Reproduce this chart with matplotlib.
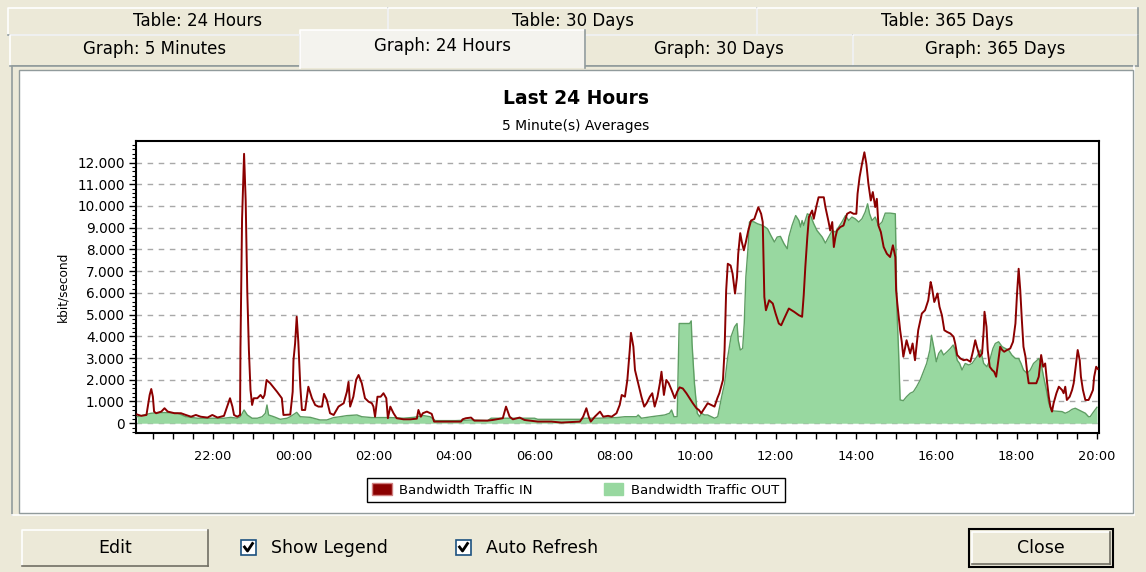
import matplotlib

matplotlib.use("Agg")
import matplotlib.pyplot as plt
from matplotlib.patches import Patch, Rectangle
from matplotlib.ticker import FixedLocator, FuncFormatter, MultipleLocator

# hours since 20:00 of the previous day
in_hours = [
    0.11, 0.21, 0.34, 0.42, 0.46, 0.50, 0.53, 0.58, 0.71, 0.79, 0.87, 1.04, 1.20, 1.32, 1.45,
    1.57, 1.69, 1.86, 1.98, 2.11, 2.27, 2.35, 2.42, 2.48, 2.52, 2.60, 2.67, 2.68, 2.72, 2.77,
    2.81, 2.85, 2.89, 2.93, 2.97, 3.01, 3.10, 3.18, 3.24, 3.28, 3.33, 3.42, 3.59, 3.71, 3.75,
    3.92, 3.98, 4.00, 4.04, 4.08, 4.12, 4.17, 4.21, 4.29, 4.37, 4.46, 4.54, 4.62, 4.71, 4.76,
    4.83, 4.91, 5.00, 5.12, 5.25, 5.33, 5.37, 5.41, 5.49, 5.56, 5.62, 5.70, 5.78, 5.87, 5.95,
    5.99, 6.03, 6.09, 6.17, 6.24, 6.31, 6.35, 6.41, 6.49, 6.57, 6.74, 6.91, 7.07, 7.11, 7.17,
    7.22, 7.32, 7.44, 7.50, 7.98, 8.17, 8.21, 8.29, 8.42, 8.50, 8.83, 8.96, 9.21, 9.29, 9.38,
    9.46, 9.63, 9.75, 10.08, 10.42, 10.67, 11.13, 11.21, 11.29, 11.35, 11.40, 11.50, 11.63, 11.71, 11.83,
    11.92, 12.04, 12.12, 12.17, 12.25, 12.31, 12.37, 12.40, 12.46, 12.50, 12.58, 12.66, 12.73, 12.79, 12.87,
    12.93, 12.99, 13.06, 13.12, 13.16, 13.22, 13.28, 13.34, 13.41, 13.49, 13.55, 13.61, 13.69, 13.78, 13.86,
    13.94, 14.03, 14.09, 14.15, 14.23, 14.31, 14.40, 14.48, 14.55, 14.60, 14.69, 14.73, 14.77, 14.81, 14.88,
    14.93, 14.99, 15.04, 15.07, 15.12, 15.16, 15.21, 15.26, 15.32, 15.39, 15.47, 15.54, 15.57, 15.64, 15.68,
    15.72, 15.76, 15.84, 15.93, 16.00, 16.08, 16.14, 16.21, 16.33, 16.46, 16.58, 16.66, 16.70, 16.74, 16.79,
    16.83, 16.91, 16.95, 17.02, 17.07, 17.20, 17.24, 17.32, 17.36, 17.41, 17.45, 17.49, 17.53, 17.61, 17.69,
    17.78, 17.86, 17.94, 18.01, 18.04, 18.09, 18.15, 18.21, 18.26, 18.31, 18.37, 18.42, 18.48, 18.52, 18.56,
    18.62, 18.69, 18.77, 18.85, 18.92, 18.98, 19.00, 19.03, 19.10, 19.14, 19.18, 19.26, 19.35, 19.41, 19.47,
    19.55, 19.64, 19.72, 19.80, 19.86, 19.89, 19.95, 20.00, 20.03, 20.08, 20.14, 20.20, 20.27, 20.35, 20.43,
    20.47, 20.52, 20.60, 20.68, 20.76, 20.85, 20.91, 20.97, 21.01, 21.08, 21.14, 21.18, 21.20, 21.25, 21.28,
    21.33, 21.39, 21.44, 21.49, 21.55, 21.59, 21.64, 21.69, 21.76, 21.84, 21.91, 21.97, 22.01, 22.05, 22.09,
    22.13, 22.17, 22.22, 22.26, 22.30, 22.38, 22.49, 22.55, 22.61, 22.66, 22.71, 22.76, 22.80, 22.84, 22.88,
    22.92, 22.99, 23.05, 23.13, 23.17, 23.21, 23.25, 23.32, 23.38, 23.42, 23.46, 23.52, 23.57, 23.60, 23.65,
    23.71, 23.79, 23.83, 23.90, 23.93, 23.98, 24.02,
]
in_kbps = [
    400, 340, 380, 1300, 1575, 1220, 535, 460, 535, 690, 535, 460, 460, 380, 300,
    380, 300, 260, 380, 260, 340, 765, 1150, 765, 380, 300, 380, 3440, 9400, 12400,
    10250, 6040, 3370, 1530, 840, 1150, 1150, 1300, 1150, 1300, 1990, 1840, 1450, 1150, 380,
    400, 1450, 2900, 3670, 4900, 3750, 1680, 610, 610, 1680, 1150, 840, 765, 765, 1350,
    1070, 460, 380, 765, 920, 1450, 1900, 765, 1220, 2000, 2220, 1840, 1150, 990, 920,
    765, 300, 1220, 1220, 1380, 1150, 230, 765, 460, 230, 180, 180, 210, 610, 300,
    460, 535, 430, 75, 75, 75, 180, 230, 260, 120, 120, 150, 230, 765, 300,
    180, 260, 150, 75, 75, 30, 75, 300, 690, 300, 75, 300, 535, 300, 340,
    300, 460, 840, 1300, 1220, 1990, 3370, 4160, 3520, 2450, 1840, 1220, 765, 920, 1220,
    1380, 765, 1220, 1840, 2370, 1300, 1990, 1840, 1530, 1150, 1450, 1650, 1600, 1380, 1150,
    920, 690, 610, 460, 690, 920, 840, 765, 1150, 1380, 1990, 3370, 6120, 7340, 7260,
    6880, 5970, 6730, 7800, 8750, 8340, 7960, 8340, 8870, 9330, 9400, 9790, 9945, 9640, 9260,
    5810, 5200, 5660, 5510, 5050, 4590, 4510, 4800, 5280, 5130, 4970, 4900, 5890, 7190, 8570,
    9490, 9790, 9410, 10020, 10400, 10400, 9950, 9260, 8870, 9260, 8110, 8570, 8870, 9030, 9100,
    9640, 9720, 9640, 9640, 10560, 11320, 11930, 12470, 11930, 11020, 10250, 10640, 9950, 10330, 9100,
    8800, 8110, 7800, 7650, 8190, 7650, 6120, 5510, 4280, 3750, 3060, 3820, 3210, 3670, 2900,
    4280, 5050, 5200, 5660, 6500, 6270, 5580, 5810, 5970, 5360, 4970, 4280, 4200, 4130, 3980,
    3670, 3140, 2980, 2900, 2930, 2830, 3290, 3820, 3520, 3060, 3210, 4280, 5130, 4440, 3370,
    2600, 2450, 2370, 2140, 2980, 3520, 3370, 3290, 3370, 3440, 3750, 4590, 5970, 7110, 6120,
    4740, 3520, 3060, 2370, 1840, 1840, 1840, 2140, 3140, 2600, 2750, 1840, 1220, 765, 535,
    920, 1380, 1680, 1530, 1380, 1680, 1070, 1220, 1530, 1840, 2450, 3370, 2900, 2140, 1530,
    1070, 1070, 1220, 1530, 2140, 2600, 2500,
]

out_hours = [
    0.11, 0.29, 0.46, 0.79, 1.12, 1.32, 1.61, 1.94, 2.27, 2.44, 2.60, 2.68, 2.77, 2.85, 2.97,
    3.10, 3.22, 3.30, 3.34, 3.38, 3.51, 3.67, 3.84, 3.92, 4.08, 4.17, 4.42, 4.66, 4.83, 5.00,
    5.16, 5.33, 5.58, 5.70, 5.95, 6.41, 6.74, 6.99, 7.24, 7.40, 7.53, 8.03, 8.42, 8.83, 8.92,
    10.00, 10.08, 11.17, 11.25, 11.58, 12.04, 12.25, 12.54, 12.58, 12.66, 12.91, 13.24, 13.36, 13.41, 13.47,
    13.55, 13.60, 13.74, 13.86, 13.90, 13.92, 13.98, 14.05, 14.11, 14.15, 14.23, 14.31, 14.40, 14.48, 14.56,
    14.65, 14.73, 14.81, 14.89, 14.98, 15.04, 15.07, 15.12, 15.18, 15.22, 15.26, 15.31, 15.35, 15.39, 15.47,
    15.55, 15.68, 15.80, 15.88, 15.97, 16.04, 16.12, 16.21, 16.29, 16.33, 16.41, 16.50, 16.58, 16.62, 16.66,
    16.70, 16.79, 16.87, 16.95, 17.03, 17.16, 17.24, 17.32, 17.41, 17.49, 17.57, 17.65, 17.74, 17.82, 17.90,
    17.98, 18.07, 18.15, 18.23, 18.29, 18.34, 18.40, 18.48, 18.56, 18.65, 18.73, 18.85, 18.98, 19.02, 19.06,
    19.10, 19.18, 19.26, 19.35, 19.43, 19.51, 19.60, 19.68, 19.76, 19.84, 19.88, 19.95, 20.00, 20.06, 20.12,
    20.18, 20.27, 20.35, 20.42, 20.47, 20.52, 20.58, 20.64, 20.72, 20.81, 20.89, 21.01, 21.10, 21.18, 21.26,
    21.33, 21.41, 21.47, 21.55, 21.64, 21.72, 21.80, 21.88, 21.97, 22.05, 22.11, 22.17, 22.26, 22.34, 22.42,
    22.51, 22.55, 22.61, 22.67, 22.74, 22.80, 22.86, 22.92, 23.13, 23.21, 23.30, 23.38, 23.46, 23.63, 23.71,
    23.79, 23.83, 23.92, 24.00,
]
out_kbps = [
    300, 380, 460, 490, 460, 300, 230, 230, 230, 270, 230, 300, 610, 380, 230,
    230, 300, 460, 840, 380, 300, 180, 230, 300, 500, 300, 270, 150, 150, 260,
    300, 350, 380, 300, 260, 260, 230, 270, 350, 300, 120, 120, 150, 120, 230,
    230, 180, 180, 230, 230, 260, 300, 300, 380, 230, 300, 380, 460, 610, 300,
    300, 4590, 4590, 4590, 4710, 3670, 1840, 460, 300, 460, 380, 380, 300, 230, 300,
    1150, 1840, 3060, 3980, 4440, 4590, 3820, 3370, 3440, 4590, 6730, 7960, 9260, 9300, 9260,
    9180, 9100, 8950, 8650, 8340, 8570, 8600, 8260, 8030, 8570, 9100, 9560, 9330, 9030, 9330,
    9100, 9640, 9560, 9180, 8870, 8570, 8290, 8570, 8870, 8800, 9030, 9260, 9560, 9330, 9490,
    9410, 9260, 9410, 9720, 10100, 9640, 9330, 9490, 9100, 9260, 9670, 9670, 9640, 5200, 3370,
    1070, 1040, 1220, 1380, 1450, 1680, 1990, 2370, 2750, 3370, 4050, 3370, 2830, 3210, 3370,
    3140, 3290, 3440, 3600, 3370, 2900, 2750, 2450, 2750, 2680, 2750, 3060, 3370, 2750, 2600,
    2900, 3440, 3670, 3750, 3520, 3440, 3370, 3140, 2980, 2980, 2750, 2450, 2300, 2450, 2750,
    2900, 2980, 2750, 2140, 1530, 920, 610, 565, 535, 460, 535, 640, 690, 535, 460,
    300, 300, 535, 735,
]

tick_hours = [2, 4, 6, 8, 10, 12, 14, 16, 18, 20, 22, 24]
tick_labels = ["22:00", "00:00", "02:00", "04:00", "06:00", "08:00",
               "10:00", "12:00", "14:00", "16:00", "18:00", "20:00"]
y_ticks = list(range(0, 13000, 1000))

top_tabs = ["Table: 24 Hours", "Table: 30 Days", "Table: 365 Days"]
bottom_tabs = ["Graph: 5 Minutes", "Graph: 24 Hours", "Graph: 30 Days", "Graph: 365 Days"]

W, H = 1146, 572
UI = "#ECE9D8"
RED = "#8B0000"
GREEN = "#98D8A0"
GREEN_EDGE = "#5E9E63"


def box(ax, x0, y0, x1, y1, face, light="white", dark="#ACA899", z=1, bottom=True):
    ax.add_patch(Rectangle((x0, y0), x1 - x0, y1 - y0, facecolor=face, edgecolor="none", zorder=z))
    ax.plot([x0, x0, x1], [y1, y0, y0], color=light, lw=1.2, zorder=z + 0.1)
    ax.plot([x1, x1], [y0, y1], color=dark, lw=1.2, zorder=z + 0.1)
    if bottom:
        ax.plot([x0, x1], [y1, y1], color=dark, lw=1.2, zorder=z + 0.1)


fig = plt.figure(figsize=(W / 100, H / 100), dpi=100, facecolor=UI)
bg = fig.add_axes([0, 0, 1, 1])
bg.set_xlim(0, W)
bg.set_ylim(H, 0)
bg.axis("off")

# tab strip
ui_font = dict(family="DejaVu Sans", fontsize=12, color="black")
for (x0, x1), label in zip([(8, 388), (388, 757), (757, 1138)], top_tabs):
    box(bg, x0, 8, x1, 35, UI, dark="#919B9C")
    bg.text((x0 + x1) / 2, 21, label, ha="center", va="center", **ui_font)
for (x0, x1), label in zip([(10, 300), (300, 585), (585, 853), (853, 1138)], bottom_tabs):
    if label == "Graph: 24 Hours":
        continue
    box(bg, x0, 35, x1, 66, UI, dark="#919B9C")
    bg.text((x0 + x1) / 2, 49, label, ha="center", va="center", **ui_font)

# chart panel
box(bg, 12, 66, 1134, 515, UI, light="#919B9C", dark="white", z=2)
bg.add_patch(Rectangle((19, 70), 1114, 443, facecolor="white", edgecolor="#919B9C", lw=1, zorder=2.5))
box(bg, 300, 30, 585, 68, "#F4F3EE", dark="#919B9C", z=3, bottom=False)
bg.text(442, 46, bottom_tabs[1], ha="center", va="center", zorder=4, **ui_font)

bg.text(576, 98, "Last 24 Hours", ha="center", va="center", fontsize=13.5,
        fontweight="bold", family="DejaVu Sans", zorder=4)
bg.text(576, 126, "5 Minute(s) Averages", ha="center", va="center", fontsize=10,
        family="DejaVu Sans", zorder=4)

# buttons and check boxes at the bottom
btn_font = dict(family="DejaVu Sans", fontsize=12.5, color="black", va="center", zorder=5)
box(bg, 22, 530, 208, 566, UI, dark="#716F64")
bg.text(115, 548, "Edit", ha="center", **btn_font)
bg.add_patch(Rectangle((969, 529), 144, 38, facecolor="none", edgecolor="black", lw=1.5, zorder=4))
box(bg, 972, 532, 1110, 564, UI, dark="#716F64")
bg.text(1041, 548, "Close", ha="center", **btn_font)
for cx, label in [(241, "Show Legend"), (456, "Auto Refresh")]:
    bg.add_patch(Rectangle((cx, 540), 15, 15, facecolor="white", edgecolor="#1C5180", lw=1.2, zorder=4))
    bg.plot([cx + 3.5, cx + 6.5, cx + 11.5], [547, 551, 543.5], color="black", lw=2, zorder=5)
    bg.text(cx + 30, 548, label, ha="left", **btn_font)

# the chart itself
ax = fig.add_axes([136 / W, 1 - 433 / H, (1099 - 136) / W, (433 - 141) / H])
ax.set_facecolor("white")
ax.fill_between(out_hours, 0, out_kbps, color=GREEN, lw=0, zorder=2)
ax.plot(out_hours, out_kbps, color=GREEN_EDGE, lw=1.0, zorder=3)
ax.plot(in_hours, in_kbps, color=RED, lw=1.4, zorder=4)

ax.set_xlim(0.08, 24.05)
ax.set_ylim(-450, 12990)
ax.xaxis.set_major_locator(FixedLocator(tick_hours))
ax.set_xticklabels(tick_labels)
ax.xaxis.set_minor_locator(MultipleLocator(0.5))
ax.yaxis.set_major_locator(FixedLocator(y_ticks))
ax.yaxis.set_major_formatter(FuncFormatter(lambda v, p: f"{int(v):,}".replace(",", ".")))
ax.yaxis.set_minor_locator(MultipleLocator(200))
ax.tick_params(axis="x", which="both", direction="out", length=4, width=1, pad=8,
               labelsize=9.3, colors="black")
ax.tick_params(axis="y", which="major", direction="out", length=5, width=1, pad=3, labelsize=9.8)
ax.tick_params(axis="y", which="minor", direction="out", length=3, width=0.8)
ax.grid(axis="y", which="major", color="#A8A8A8", ls=(0, (4, 4)), lw=1, zorder=1)
ax.set_axisbelow(True)
for s in ax.spines.values():
    s.set_linewidth(1.5)
    s.set_color("black")
ax.set_ylabel("kbit/second", fontsize=8.7, labelpad=6)

fig.legend(
    handles=[Patch(facecolor=RED, edgecolor="#D08080", label="Bandwidth Traffic IN"),
             Patch(facecolor=GREEN, edgecolor=GREEN, label="Bandwidth Traffic OUT")],
    loc="center", bbox_to_anchor=(576 / W, 1 - 490 / H), ncol=2, fontsize=9.5,
    frameon=True, fancybox=False, edgecolor="black", framealpha=1,
    handlelength=1.45, handleheight=1.05, handletextpad=0.6, columnspacing=5.4,
    borderpad=0.4, borderaxespad=0.3,
).get_frame().set_linewidth(1.0)

fig.savefig("out.png", dpi=100, facecolor=UI)
